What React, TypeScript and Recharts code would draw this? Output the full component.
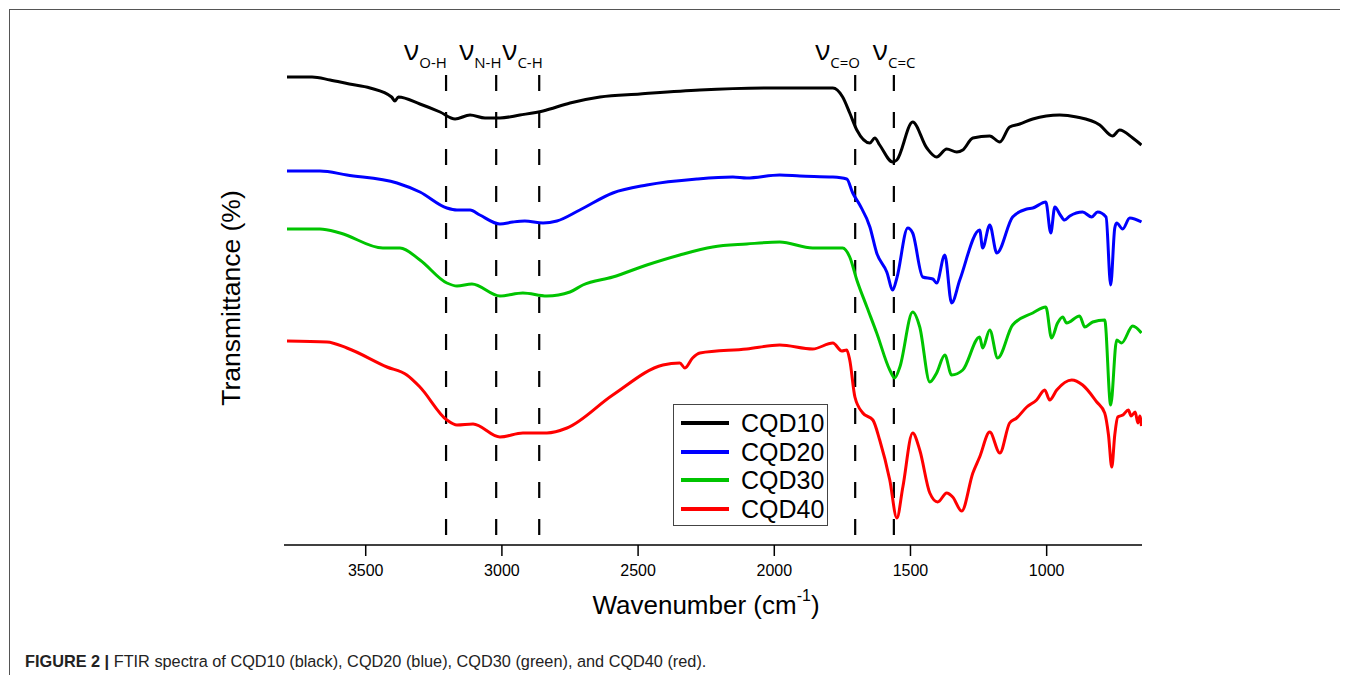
import React from 'react';
import { LineChart, Line, XAxis, YAxis, ReferenceLine, Legend } from 'recharts';

const FONT = '"Liberation Sans", Arial, Helvetica, sans-serif';
const NU_FONT = '"Open Sans", "DejaVu Sans", sans-serif';

// [wavenumber (cm^-1), transmittance (offset, a.u.)]
const cqd10: [number, number][] = [
  [3789, 93.6], [3697, 93.6], [3631, 93.0], [3560, 92.2], [3484, 91.4], [3405, 89.6], [3393, 88.8], [3380, 89.6],
  [3301, 88.2], [3227, 86.6], [3172, 85.2], [3117, 86.0], [3062, 85.4], [3007, 85.4], [2934, 86.0], [2849, 86.8],
  [2750, 88.4], [2640, 89.6], [2493, 90.2], [2273, 91.0], [1994, 91.4], [1785, 91.4], [1749, 89.6], [1723, 86.4],
  [1697, 83.0], [1649, 80.4], [1631, 81.4], [1613, 80.0], [1565, 76.6], [1550, 77.0], [1492, 84.6], [1440, 79.4],
  [1404, 77.6], [1367, 79.2], [1330, 78.6], [1308, 79.0], [1271, 81.4], [1209, 81.8], [1172, 80.6], [1136, 83.6],
  [1099, 84.2], [1051, 85.2], [952, 86.0], [890, 85.6], [805, 84.0], [758, 81.8], [732, 83.0], [684, 81.4], [652, 80.0],
];

const cqd20: [number, number][] = [
  [3789, 74.8], [3668, 74.8], [3569, 74.0], [3385, 72.4], [3301, 70.6], [3202, 67.4], [3165, 67.0], [3117, 67.0],
  [3081, 66.0], [3007, 64.2], [2960, 64.6], [2916, 64.8], [2849, 64.4], [2798, 64.8], [2714, 67.0], [2593, 70.4],
  [2468, 72.0], [2284, 73.2], [2152, 73.6], [2101, 73.4], [1980, 74.0], [1906, 73.8], [1785, 73.6], [1734, 73.2],
  [1712, 70.4], [1686, 68.0], [1649, 63.6], [1624, 58.4], [1587, 54.6], [1565, 51.0], [1550, 53.4], [1510, 63.4],
  [1492, 62.4], [1455, 53.6], [1418, 53.2], [1404, 52.4], [1374, 58.0], [1349, 48.4], [1319, 53.0], [1246, 63.0],
  [1235, 59.4], [1209, 64.0], [1183, 58.4], [1125, 65.6], [1073, 67.2], [1051, 67.4], [1003, 68.6], [985, 62.4],
  [970, 67.6], [950, 66.0], [934, 65.0], [915, 65.8], [868, 66.6], [835, 65.6], [813, 66.6], [782, 65.6],
  [765, 52.0], [750, 63.4], [743, 64.4], [721, 63.2], [695, 65.4], [652, 64.6],
];

const cqd30: [number, number][] = [
  [3789, 63.2], [3668, 63.2], [3594, 62.4], [3437, 59.4], [3374, 59.4], [3301, 57.0], [3202, 52.4], [3165, 51.8],
  [3110, 52.2], [3007, 49.8], [2923, 50.4], [2835, 49.8], [2750, 50.6], [2703, 52.0], [2593, 53.6], [2468, 56.0],
  [2347, 58.0], [2226, 59.6], [2101, 60.2], [1980, 60.6], [1859, 59.4], [1749, 59.4], [1723, 57.6], [1697, 53.0],
  [1660, 47.6], [1624, 42.4], [1576, 35.0], [1558, 33.4], [1539, 35.6], [1492, 46.6], [1466, 43.6], [1429, 32.6],
  [1404, 34.4], [1374, 38.0], [1349, 34.0], [1308, 35.0], [1246, 41.6], [1235, 39.4], [1209, 43.0], [1180, 37.4],
  [1125, 44.0], [1051, 46.4], [1003, 47.6], [982, 41.4], [960, 44.4], [941, 45.6], [927, 44.4], [879, 45.8],
  [860, 43.6], [831, 44.6], [787, 45.0], [765, 28.0], [743, 41.0], [725, 40.4], [684, 43.8], [652, 42.4],
];

const cqd40: [number, number][] = [
  [3789, 40.8], [3642, 40.6], [3569, 39.4], [3422, 35.6], [3349, 34.0], [3301, 31.6], [3202, 25.0], [3165, 24.0],
  [3106, 24.2], [3007, 21.6], [2923, 22.4], [2835, 22.4], [2761, 23.4], [2593, 30.0], [2409, 36.0], [2347, 36.4],
  [2328, 35.4], [2300, 37.4], [2273, 38.4], [2101, 39.2], [1980, 40.0], [1859, 39.2], [1785, 40.4], [1752, 38.8],
  [1734, 39.0], [1723, 37.0], [1704, 29.6], [1675, 26.4], [1638, 25.0], [1613, 21.0], [1576, 13.0], [1550, 5.4],
  [1528, 11.6], [1492, 22.4], [1466, 19.0], [1429, 10.4], [1400, 8.6], [1367, 10.4], [1345, 9.6], [1312, 6.8],
  [1271, 14.4], [1246, 17.6], [1209, 22.6], [1172, 18.4], [1136, 24.4], [1110, 25.4], [1073, 27.6], [1037, 29.0],
  [1007, 31.0], [989, 29.0], [963, 31.0], [908, 33.0], [868, 32.0], [816, 28.6], [787, 26.4], [773, 22.0],
  [761, 15.6], [750, 22.0], [739, 25.6], [720, 26.0], [700, 27.0], [690, 25.8], [675, 26.6], [665, 24.4],
  [658, 25.8], [652, 23.8],
];

const seriesNames = ['CQD10', 'CQD20', 'CQD30', 'CQD40'];
const seriesColors = ['#000000', '#0000ff', '#00c400', '#ff0000'];
const seriesData = [cqd10, cqd20, cqd30, cqd40];

const xTicks = [3500, 3000, 2500, 2000, 1500, 1000];
const bandPositions = [3205, 3021, 2863, 1703, 1561];
const bandLabels = ['O-H', 'N-H', 'C-H', 'C=O', 'C=C'];
const bandLabelOffsets = [-42, -37, -37, -40, -21];
const bandTop = 94;

const toPoints = (arr: [number, number][]) => arr.map(([w, t]) => ({ w, t }));

const renderLegend = () => (
  <div
    style={{
      width: 153,
      height: 120,
      border: '1.5px solid #444',
      background: '#fff',
      boxSizing: 'content-box',
      fontFamily: FONT,
      position: 'relative',
    }}
  >
    {seriesNames.map((name, i) => (
      <div
        key={name}
        style={{ position: 'absolute', left: 0, top: 4 + i * 28.7, height: 28, display: 'flex', alignItems: 'center' }}
      >
        <div style={{ width: 48, height: 4, background: seriesColors[i], marginLeft: 7, marginRight: 12 }} />
        <span style={{ fontSize: 25, color: '#000', lineHeight: '28px' }}>{name}</span>
      </div>
    ))}
  </div>
);

const AxisTitles = () => (
  <g>
    <text x={698} y={606} textAnchor="middle" fontFamily={FONT} fontSize={26} fill="#000">
      Wavenumber (cm
      <tspan fontSize={16} dy={-13}>-1</tspan>
      <tspan dy={13}>)</tspan>
    </text>
    <text
      x={232}
      y={290}
      textAnchor="middle"
      fontFamily={FONT}
      fontSize={26.5}
      fill="#000"
      transform="rotate(-90 232 290)"
    >
      Transmittance (%)
    </text>
  </g>
);

export default function App() {
  return (
    <div style={{ position: 'relative', width: 1332, height: 667, fontFamily: FONT }}>
      <div
        style={{
          position: 'absolute',
          left: 1,
          top: 1,
          width: 1339,
          height: 672,
          borderTop: '1.5px solid #555',
          borderLeft: '1.5px solid #555',
          boxSizing: 'border-box',
        }}
      />
      <div style={{ position: 'absolute', left: 0, top: 0 }}>
        <LineChart width={1332} height={667} margin={{ top: 19, right: 198, bottom: 70, left: 276 }}>
          <XAxis
            dataKey="w"
            type="number"
            domain={[650, 3800]}
            reversed
            allowDataOverflow
            ticks={xTicks}
            height={60}
            tickSize={11}
            tickMargin={9}
            axisLine={{ stroke: '#000', strokeWidth: 1.5 }}
            tickLine={{ stroke: '#000', strokeWidth: 1.5 }}
            tick={{ fill: '#000', fontSize: 16, fontFamily: FONT }}
            label={{ content: () => <AxisTitles /> }}
          />
          <YAxis
            type="number"
            domain={[0, 103.6]}
            allowDataOverflow
            width={0}
            tick={false}
            tickLine={false}
            axisLine={{ stroke: '#000', strokeWidth: 1.5 }}
          />
          {bandPositions.map((w, i) => (
            <ReferenceLine
              key={bandLabels[i]}
              segment={[{ x: w, y: bandTop }, { x: w, y: 0 }]}
              stroke="#000"
              strokeWidth={2.2}
              strokeDasharray="16 21"
              label={{
                content: (props: any) => {
                  const vx = props.viewBox ? props.viewBox.x : 0;
                  return (
                    <text x={vx + bandLabelOffsets[i]} y={52} fontFamily={NU_FONT} fill="#000">
                      <tspan fontSize={28}>ν</tspan>
                      <tspan fontSize={15} dy={8}>{bandLabels[i]}</tspan>
                    </text>
                  );
                },
              }}
            />
          ))}
          {seriesData.map((d, i) => (
            <Line
              key={seriesNames[i]}
              data={toPoints(d)}
              dataKey="t"
              name={seriesNames[i]}
              type="monotone"
              stroke={seriesColors[i]}
              strokeWidth={3}
              dot={false}
              activeDot={false}
              isAnimationActive={false}
            />
          ))}
          <Legend
            layout="vertical"
            align="center"
            verticalAlign="middle"
            content={renderLegend}
            wrapperStyle={{ left: 665, top: 396, width: 156, height: 123 }}
          />
        </LineChart>
      </div>
      <div
        style={{
          position: 'absolute',
          left: 17,
          top: 644,
          fontSize: 16.3,
          color: '#222',
          fontFamily: FONT,
          whiteSpace: 'nowrap',
        }}
      >
        <b>FIGURE 2 |</b> FTIR spectra of CQD10 (black), CQD20 (blue), CQD30 (green), and CQD40 (red).
      </div>
    </div>
  );
}
